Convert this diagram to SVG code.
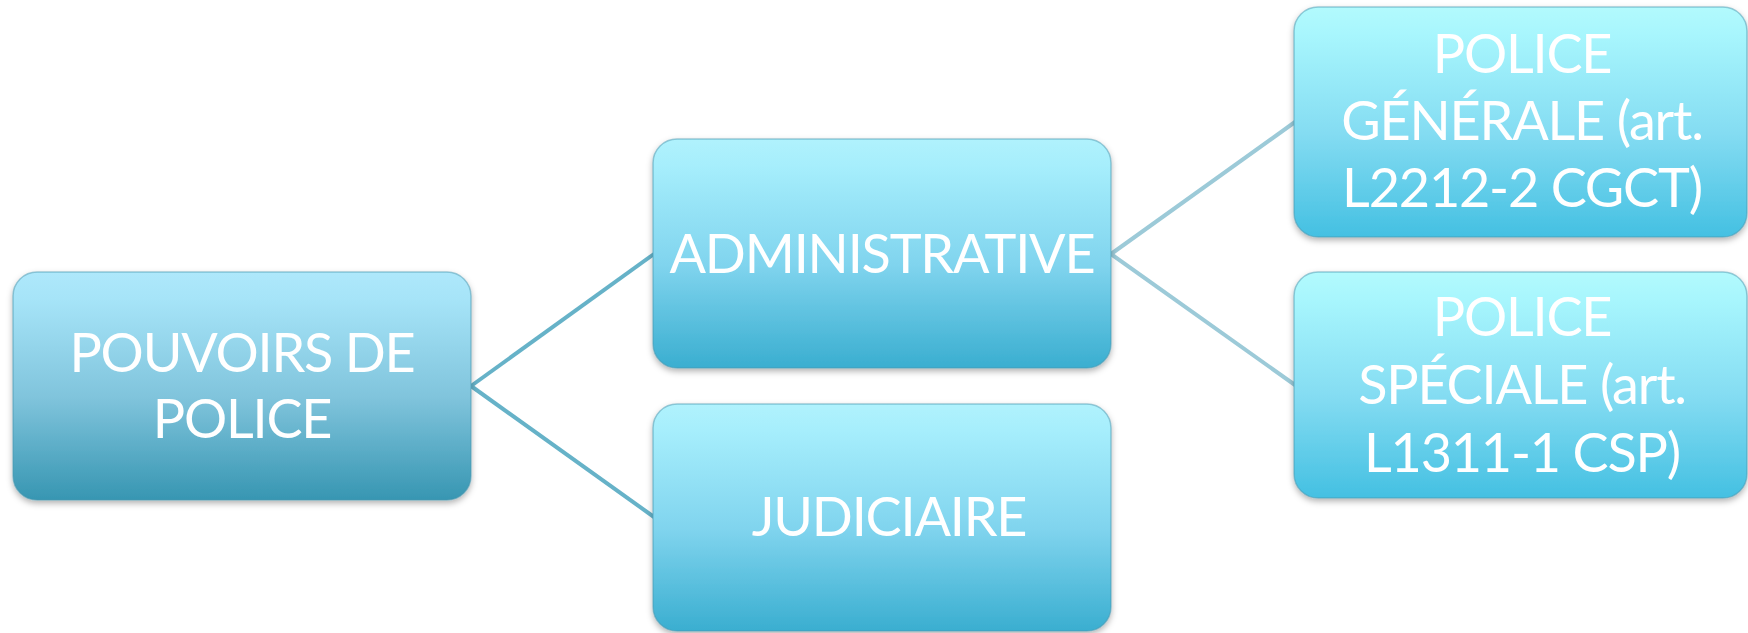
<svg xmlns="http://www.w3.org/2000/svg" width="1748" height="633" viewBox="0 0 1748 633">
<style>
.lbl{font-family:Lato,"Open Sans","Liberation Sans",sans-serif;font-size:54px;letter-spacing:-1.2px;fill:#ffffff;text-anchor:middle}
.box{stroke:#4a98b0;stroke-opacity:0.5;stroke-width:1.5;filter:url(#sh)}
.c1{stroke:#66b2c8;stroke-width:4;fill:none}
.c2{stroke:#9ccad8;stroke-width:4;fill:none}
</style>
<defs>
<filter id="sh" x="-5%" y="-5%" width="110%" height="115%">
<feDropShadow dx="0" dy="3" stdDeviation="3" flood-color="#000" flood-opacity="0.3"/>
</filter>
<linearGradient id="g1" x1="0" y1="0" x2="0" y2="1">
<stop offset="0" stop-color="#aee8fb"/>
<stop offset="0.12" stop-color="#a6e4f8"/>
<stop offset="0.55" stop-color="#80c4dc"/>
<stop offset="1" stop-color="#3796b2"/>
</linearGradient>
<linearGradient id="g2" x1="0" y1="0" x2="0" y2="1">
<stop offset="0" stop-color="#b0f2fd"/>
<stop offset="0.12" stop-color="#a6eefc"/>
<stop offset="0.55" stop-color="#80d4ee"/>
<stop offset="1" stop-color="#3aaed0"/>
</linearGradient>
<linearGradient id="g3" x1="0" y1="0" x2="0" y2="1">
<stop offset="0" stop-color="#b2fafd"/>
<stop offset="0.12" stop-color="#a8f6fd"/>
<stop offset="0.55" stop-color="#84dcf2"/>
<stop offset="1" stop-color="#44c0e2"/>
</linearGradient>
</defs>
<g id="connectors">
<line class="c1" x1="471" y1="386" x2="654" y2="254"/>
<line class="c1" x1="471" y1="386" x2="654" y2="517"/>
<line class="c2" x1="1111" y1="254" x2="1295" y2="122"/>
<line class="c2" x1="1111" y1="254" x2="1295" y2="385"/>
</g>
<g id="n-pouvoirs">
<rect class="box" x="13" y="272" width="458" height="228" rx="24" fill="url(#g1)"/>
<text class="lbl" x="242" y="372">POUVOIRS DE</text>
<text class="lbl" x="242" y="438">POLICE</text>
</g>
<g id="n-administrative">
<rect class="box" x="653" y="139" width="458" height="229" rx="24" fill="url(#g2)"/>
<text class="lbl" x="882" y="273">ADMINISTRATIVE</text>
</g>
<g id="n-judiciaire">
<rect class="box" x="653" y="404" width="458" height="227" rx="24" fill="url(#g2)"/>
<text class="lbl" x="889" y="536">JUDICIAIRE</text>
</g>
<g id="n-generale">
<rect class="box" x="1294" y="7" width="453" height="230" rx="24" fill="url(#g3)"/>
<text class="lbl" x="1522" y="73">POLICE</text>
<text class="lbl" x="1522" y="140">GÉNÉRALE (art.</text>
<text class="lbl" x="1522" y="207">L2212-2 CGCT)</text>
</g>
<g id="n-speciale">
<rect class="box" x="1294" y="272" width="453" height="226" rx="24" fill="url(#g3)"/>
<text class="lbl" x="1522" y="336">POLICE</text>
<text class="lbl" x="1522" y="404">SPÉCIALE (art.</text>
<text class="lbl" x="1522" y="472">L1311-1 CSP)</text>
</g>
</svg>
